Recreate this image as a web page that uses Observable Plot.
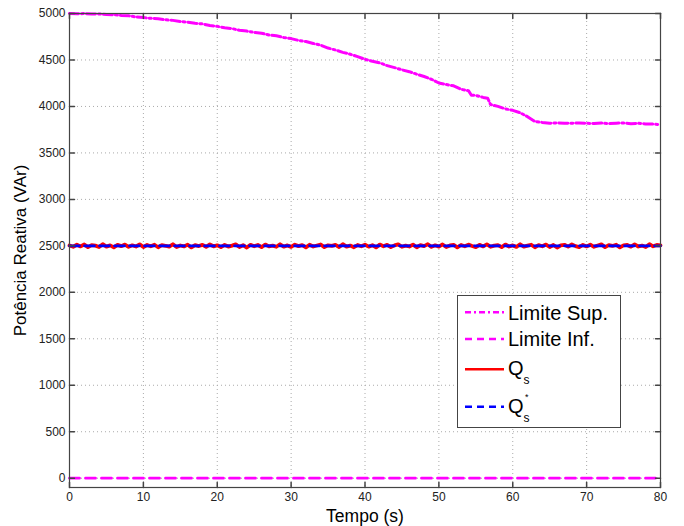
<!DOCTYPE html>
<html>
<head>
<meta charset="utf-8">
<script src="https://cdn.jsdelivr.net/npm/d3@7"></script>
<script src="https://cdn.jsdelivr.net/npm/@observablehq/plot@0.6"></script>
<style>
  body { margin: 0; background: #fff; }
  #wrap { position: relative; width: 684px; height: 526px; font-family: "Liberation Sans", Arial, sans-serif; }
  #wrap svg.plot { font-family: "Liberation Sans", Arial, sans-serif; }
  [aria-label="y-axis label"] text { font-size: 17px; fill: #000; }
  [aria-label="x-axis label"] text { font-size: 17.5px; fill: #000; }
  #legend { position: absolute; left: 457px; top: 295px; width: 164px; height: 133px; box-sizing: border-box; border: 1.2px solid #444; background: #fff; }
</style>
</head>
<body>
<div id="wrap"></div>
<script>
// ---- data ----
const xTicks = [0, 10, 20, 30, 40, 50, 60, 70, 80];
const yTicks = [0, 500, 1000, 1500, 2000, 2500, 3000, 3500, 4000, 4500, 5000];

// Limite Sup. (upper limit)
const supT = [0,1,2,3,4,5,6,7,8,9,10,11,12,13,14,15,16,17,18,19,20,21,22,23,24,25,26,27,28,29,30,
  31,32,33,34,35,36,37,38,39,40,41,42,43,44,45,46,47,48,49,50,51,52,53,54,54.4,55,56,56.6,57,58,59,60,61,62,63,
  64,65,66,67,68,69,70,71,72,73,74,75,76,77,78,79,80];
const supV = [5000,4998,4999,4994,4995,4989,4987,4979,4976,4963,4956,4948,4944,4932,4926,4914,4907,4895,4888,4871,4862,4846,4838,4819,4811,4796,4788,4769,4760,4742,4730,
  4710,4698,4678,4659,4628,4607,4582,4562,4536,4507,4486,4469,4439,4418,4394,4374,4347,4322,4292,4252,4236,4222,4184,4170,4120,4119,4097,4089,4020,4001,3974,3958,3932,3890,3838,
  3828,3820,3822,3819,3820,3823,3818,3817,3821,3815,3820,3822,3815,3819,3812,3810,3805];

// Limite Inf. (lower limit)
const infT = [0, 80];
const infV = [0, 0];

// Qs (measured) — noisy around 2500, every 0.5 s
const qsV = [
  2504,2490,2512,2494,2515,2486,2508,2502,2488,2518,2492,2505,2484,2510,2497,2514,2489,2506,2493,2516,
  2487,2509,2496,2512,2485,2507,2501,2491,2517,2488,2504,2494,2513,2483,2508,2498,2511,2490,2515,2495,
  2506,2486,2510,2492,2503,2516,2488,2507,2482,2511,2496,2509,2487,2514,2494,2502,2490,2517,2491,2505,
  2489,2513,2497,2508,2484,2512,2493,2504,2515,2486,2506,2499,2510,2488,2518,2492,2503,2485,2509,2495,
  2512,2491,2507,2483,2514,2496,2511,2487,2505,2516,2490,2502,2493,2513,2485,2508,2497,2517,2489,2506,
  2492,2515,2488,2504,2510,2484,2509,2495,2513,2498,2486,2511,2494,2516,2490,2503,2508,2487,2514,2493,
  2505,2489,2517,2491,2502,2512,2485,2507,2496,2514,2488,2509,2482,2506,2511,2492,2515,2497,2487,2510,
  2494,2513,2490,2504,2516,2486,2508,2499,2512,2483,2505,2510,2491,2515,2493,2503,2488,2518,2495,2509,2506];
const qsT = qsV.map((_, i) => i * 0.5);

// Qs* (reference)
const qsRefT = [0, 80];
const qsRefV = [2500, 2500];

// ---- build tables ----
const sup = supT.map((t, i) => ({t, v: supV[i]}));
const inf = infT.map((t, i) => ({t, v: infV[i]}));
const qs = qsT.map((t, i) => ({t, v: qsV[i]}));
const qsRef = qsRefT.map((t, i) => ({t, v: qsRefV[i]}));

const tickShape = { draw(context, l) { context.moveTo(0, 0); context.lineTo(0, -l); } };
const frameColor = "#444";
const gridStyle = {stroke: "#aaa", strokeOpacity: 1, strokeDasharray: "1,3"};

const chart = Plot.plot({
  width: 684,
  height: 526,
  marginLeft: 69,
  marginRight: 24,
  marginTop: 13,
  marginBottom: 39,
  x: {domain: [0, 80]},
  y: {domain: [-100, 5000]},
  style: {fontFamily: "Liberation Sans, Arial, sans-serif", color: "#222", background: "#fff"},
  marks: [
    Plot.gridX(xTicks, gridStyle),
    Plot.gridY(yTicks, gridStyle),
    Plot.line(qs, {x: "t", y: "v", stroke: "#ff0000", strokeWidth: 3.8}),
    Plot.line(qsRef, {x: "t", y: "v", stroke: "#0000ff", strokeWidth: 2.8, strokeDasharray: "10,5"}),
    Plot.line(sup, {x: "t", y: "v", stroke: "#ff00ff", strokeWidth: 3, strokeDasharray: "9,3,2,3"}),
    Plot.line(inf, {x: "t", y: "v", stroke: "#ff00ff", strokeWidth: 2.8, strokeDasharray: "10,6"}),
    Plot.frame({stroke: frameColor, strokeWidth: 1.2}),
    Plot.vector(yTicks, {y: d => d, frameAnchor: "left", length: 5, rotate: 90, anchor: "start", shape: tickShape, stroke: frameColor}),
    Plot.vector(yTicks, {y: d => d, frameAnchor: "right", length: 5, rotate: -90, anchor: "start", shape: tickShape, stroke: frameColor}),
    Plot.vector(xTicks, {x: d => d, frameAnchor: "bottom", length: 5, rotate: 0, anchor: "start", shape: tickShape, stroke: frameColor}),
    Plot.vector(xTicks, {x: d => d, frameAnchor: "top", length: 5, rotate: 180, anchor: "start", shape: tickShape, stroke: frameColor}),
    Plot.axisY(yTicks, {tickSize: 0, tickPadding: 4, fontSize: 12, tickFormat: d => String(d), label: "Potência Reativa (VAr)", labelAnchor: "center", labelArrow: "none", labelOffset: 56}),
    Plot.axisX(xTicks, {tickSize: 0, tickPadding: 5, fontSize: 12, tickFormat: d => String(d), label: "Tempo (s)", labelAnchor: "center", labelArrow: "none", labelOffset: 34})
  ]
});
chart.classList.add("plot");
document.getElementById("wrap").appendChild(chart);

// ---- legend ----
const legendItems = [
  {label: "Limite Sup.", color: "#ff00ff", dash: "6,3,2,3", ly: 17.3, ty: 24.5},
  {label: "Limite Inf.", color: "#ff00ff", dash: "7,5", ly: 44, ty: 51},
  {label: "Q", sub: "s", color: "#ff0000", dash: null, ly: 74.3, ty: 80},
  {label: "Q", sub: "s", sup: "*", color: "#0000ff", dash: "7,5", ly: 111.7, ty: 118}
];
const NS = "http://www.w3.org/2000/svg";
const leg = document.createElement("div");
leg.id = "legend";
const ls = document.createElementNS(NS, "svg");
ls.setAttribute("width", 162);
ls.setAttribute("height", 131);
ls.style.position = "absolute";
ls.style.left = "0px";
ls.style.top = "0px";
for (const it of legendItems) {
  const ln = document.createElementNS(NS, "line");
  ln.setAttribute("x1", 7); ln.setAttribute("x2", 46);
  ln.setAttribute("y1", it.ly - 1); ln.setAttribute("y2", it.ly - 1);
  ln.setAttribute("stroke", it.color);
  ln.setAttribute("stroke-width", 2.6);
  if (it.dash) ln.setAttribute("stroke-dasharray", it.dash);
  ls.appendChild(ln);
  const tx = document.createElementNS(NS, "text");
  tx.setAttribute("x", 50); tx.setAttribute("y", it.ty - 1);
  tx.setAttribute("font-size", 20);
  tx.setAttribute("font-family", "Liberation Sans, Arial, sans-serif");
  tx.setAttribute("fill", "#000");
  tx.textContent = it.label;
  ls.appendChild(tx);
  if (it.sub) {
    const s = document.createElementNS(NS, "text");
    s.setAttribute("x", 65.5); s.setAttribute("y", it.ty + 8);
    s.setAttribute("font-size", 12);
    s.setAttribute("font-family", "Liberation Sans, Arial, sans-serif");
    s.textContent = it.sub;
    ls.appendChild(s);
  }
  if (it.sup) {
    const s = document.createElementNS(NS, "text");
    s.setAttribute("x", 67); s.setAttribute("y", it.ty - 14);
    s.setAttribute("font-size", 9);
    s.setAttribute("font-family", "Liberation Sans, Arial, sans-serif");
    s.textContent = it.sup;
    ls.appendChild(s);
  }
}
leg.appendChild(ls);
document.getElementById("wrap").appendChild(leg);
</script>
</body>
</html>
